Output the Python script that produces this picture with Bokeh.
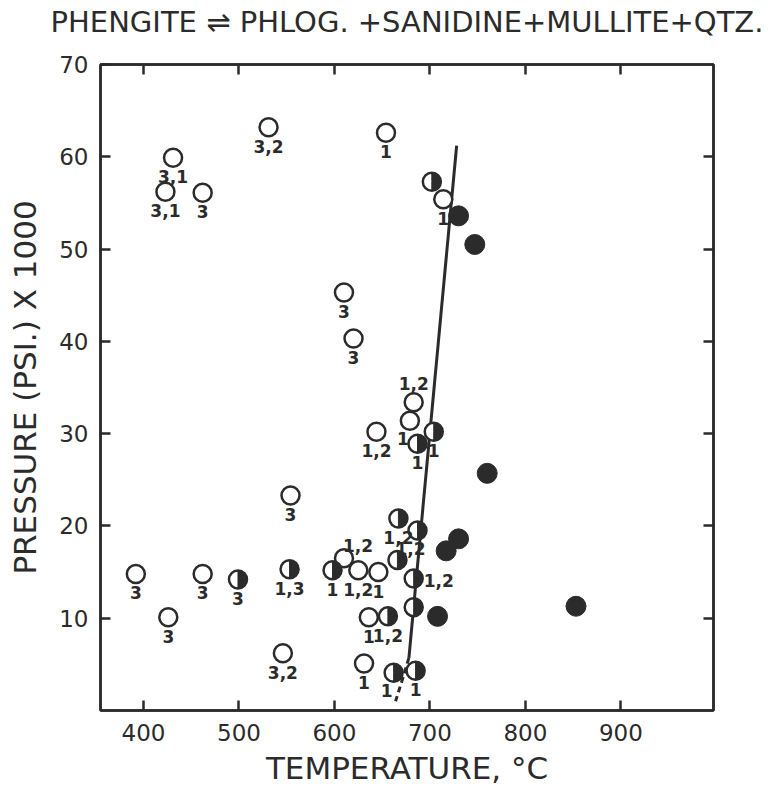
from bokeh.plotting import figure
from bokeh.models import LinearAxis, FixedTicker, ColumnDataSource
from bokeh.core.properties import value
from bokeh.embed import file_html
from bokeh.resources import INLINE
import math

# ---------------- data ----------------
title_text = "PHENGITE \u21cc PHLOG. +SANIDINE+MULLITE+QTZ."
x_label = "TEMPERATURE, \u00b0C"
y_label = "PRESSURE (PSI.) X 1000"
x_ticks = [400, 500, 600, 700, 800, 900]
y_ticks = [10, 20, 30, 40, 50, 60, 70]

# open circles (phengite stable)
open_T = [431, 423, 462, 531, 654, 610, 620, 714, 683, 679, 644, 554, 610, 625, 646, 392, 426, 462, 636, 631, 546]
open_P = [59.9, 56.2, 56.1, 63.2, 62.6, 45.3, 40.3, 55.4, 33.4, 31.4, 30.2, 23.3, 16.5, 15.2, 15.0, 14.8, 10.1, 14.8, 10.1, 5.1, 6.2]
open_lab = ["3,1", "3,1", "3", "3,2", "1", "3", "3", "1", "1,2", "1", "1,2", "3", "1,2", "1,2", "1", "3", "3", "3", "1", "1", "3,2"]
open_pos = ["b", "b", "b", "b", "b", "b", "b", "b", "a", "bl", "b", "b", "ar", "b", "b", "b", "b", "b", "b", "b", "b"]

# half-filled circles
half_T = [702, 687, 704, 667, 687, 666, 598, 683, 683, 656, 662, 685, 499, 553]
half_P = [57.3, 28.9, 30.2, 20.8, 19.5, 16.3, 15.2, 14.3, 11.2, 10.2, 4.1, 4.3, 14.2, 15.3]
half_lab = ["", "1", "1", "1,2", "1,2", "", "1", "1,2", "", "1,2", "1", "1", "3", "1,3"]
half_pos = ["b", "b", "b", "b", "bl", "b", "b", "r", "b", "b", "bl", "b", "b", "b"]

# filled circles (breakdown assemblage)
full_T = [730, 747, 760, 730, 717, 708, 853]
full_P = [53.6, 50.5, 25.7, 18.6, 17.3, 10.2, 11.3]

# reaction boundary
curve_T = [728, 678]
curve_P = [61.2, 5.7]
curve_dash_T = [678, 671, 664]
curve_dash_P = [5.7, 3.3, 1.0]

X_RANGE = (355, 997)
Y_RANGE = (0, 70)

# ---------------- styling ----------------
INK = "#2b2b2b"
FONT = "DejaVu Sans"
OFFS = {"b": (0, 19), "a": (0, -19), "r": (25, 2), "bl": (-7, 18), "br": (5, 18), "ar": (14, -13)}

p = figure(width=773, height=789, x_range=X_RANGE, y_range=Y_RANGE, title=None,
           output_backend="svg", toolbar_location=None,
           min_border_left=100, min_border_right=60, min_border_top=64, min_border_bottom=79)
p.background_fill_color = "white"
p.border_fill_color = "white"
p.xgrid.visible = False
p.ygrid.visible = False
p.outline_line_color = INK
p.outline_line_width = 2.5

def style_axis(ax, ticks, show_labels=True):
    ax.ticker = FixedTicker(ticks=ticks)
    ax.major_tick_in = 10
    ax.major_tick_out = 0
    ax.major_tick_line_width = 2.5
    ax.major_tick_line_color = INK
    ax.minor_tick_line_color = None
    ax.axis_line_color = INK
    ax.axis_line_width = 2.5
    ax.major_label_text_font = FONT
    ax.major_label_text_color = INK
    if not show_labels:
        ax.major_label_overrides = {t: "" for t in ticks}
        ax.major_label_text_font_size = "6px"
        ax.major_label_standoff = 0

xa = p.xaxis[0]
style_axis(xa, x_ticks)
xa.major_label_text_font_size = "23px"
xa.major_label_standoff = 13
xa.axis_label = x_label
xa.axis_label_text_font = FONT
xa.axis_label_text_font_size = "31px"
xa.axis_label_text_font_style = "normal"
xa.axis_label_text_color = INK
xa.axis_label_standoff = 6

ya = p.yaxis[0]
style_axis(ya, y_ticks)
ya.major_label_text_font_size = "23px"
ya.major_label_standoff = 12
ya.axis_label = y_label
ya.axis_label_text_font = FONT
ya.axis_label_text_font_size = "31px"
ya.axis_label_text_font_style = "normal"
ya.axis_label_text_color = INK
ya.axis_label_standoff = 13

# top axis: inward ticks, carries the chart heading
top = LinearAxis()
style_axis(top, x_ticks, show_labels=False)
top.axis_label = title_text
top.axis_label_text_font = FONT
top.axis_label_text_font_size = "29px"
top.axis_label_text_font_style = "normal"
top.axis_label_text_color = INK
top.axis_label_standoff = 26
p.add_layout(top, "above")

right = LinearAxis()
style_axis(right, y_ticks[:-1], show_labels=False)
p.add_layout(right, "right")

# boundary curve
p.line(curve_T, curve_P, line_color=INK, line_width=3)
p.line(curve_dash_T, curve_dash_P, line_color=INK, line_width=3, line_dash="6 4")

R = 9
# open circles
p.scatter(open_T, open_P, size=2 * R, marker="circle", fill_color="white", line_color=INK, line_width=2.5)
# half-filled circles
p.scatter(half_T, half_P, size=2 * R, marker="circle", fill_color="white", line_color=INK, line_width=2.5)
p.wedge(x=half_T, y=half_P, radius=R, radius_units="screen",
        start_angle=-math.pi / 2, end_angle=math.pi / 2,
        fill_color=INK, line_color=INK, line_width=1)
# filled circles
p.scatter(full_T, full_P, size=2 * R + 2, marker="circle", fill_color=INK, line_color=INK, line_width=1)

# point labels
def add_labels(T, P, labs, pos):
    xs, ys, ts, dx, dy = [], [], [], [], []
    for t, pr, l, ps in zip(T, P, labs, pos):
        if not l:
            continue
        ox, oy = OFFS[ps]
        xs.append(t); ys.append(pr); ts.append(l); dx.append(ox); dy.append(oy)
    src = ColumnDataSource(dict(x=xs, y=ys, text=ts, dx=dx, dy=dy))
    p.text(x="x", y="y", text="text", x_offset="dx", y_offset="dy", source=src,
           text_align="center", text_baseline="middle", text_font=value(FONT),
           text_font_size="17px", text_font_style="bold", text_color=INK)

add_labels(open_T, open_P, open_lab, open_pos)
add_labels(half_T, half_P, half_lab, half_pos)

open("out.html", "w").write(file_html(p, INLINE))
